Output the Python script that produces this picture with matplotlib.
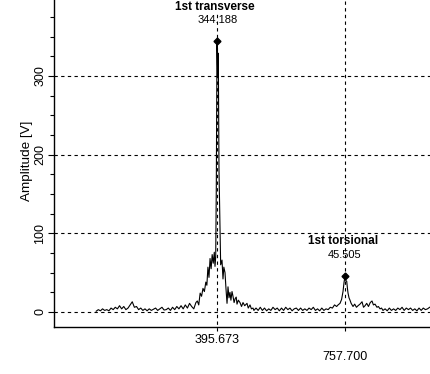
import numpy as np
import matplotlib.pyplot as plt
from matplotlib.ticker import MultipleLocator
import matplotlib.transforms as mtransforms

plt.rcParams['font.family'] = ['Liberation Sans', 'DejaVu Sans']

# baseline noise left of the first peak
freq_left = [54, 60, 66, 72, 78, 84, 90, 96, 102, 108, 114, 120, 126, 132, 138, 144,
             150, 156, 162, 168, 174, 180, 186, 192, 198, 204, 210, 216, 222, 228, 234,
             240, 246, 252, 258, 264, 270, 276, 282, 288, 294, 300, 306, 312, 318, 324,
             330, 336]
amp_left = [1, 3, 1.5, 4, 2, 3, 1.5, 5, 3, 6, 4, 8, 4, 7, 3, 5,
            9, 13, 6, 7, 3, 5, 2, 4, 1.5, 4, 2, 3.5, 5, 2, 4,
            6, 2.5, 3, 5, 2, 6, 3, 7, 4, 8, 4, 9, 5, 11, 7,
            4, 12]

# 1st transverse peak
freq_p1 = [340, 344, 348, 352, 356, 360, 364, 367, 370, 373, 376, 379, 382, 385, 388,
           390, 392, 393.7, 395.673, 397.5, 399.3, 401.3, 404.2, 406, 409.8, 412.6, 415,
           418.3, 421, 424, 426.8, 429.6, 432.4, 435, 438.1, 440.9, 444, 447, 450, 452.2,
           456, 460.7, 465, 469.2, 474, 480.5, 484, 489, 493, 497.5]
amp_p1 = [14, 9, 24, 20, 30, 26, 38, 34, 57, 44, 68, 55, 73, 62, 76,
          58, 70, 160, 344.188, 300, 329, 180, 104, 60, 66, 42, 57,
          50, 30, 11, 32, 18, 25, 15, 26, 20, 12, 17, 19, 10,
          15, 12, 7, 12, 8, 11, 5, 9, 4, 5]

# baseline between the peaks
freq_mid = [500, 506, 512, 518, 524, 530, 536, 542, 548, 554, 560, 566, 572, 578, 584,
            590, 596, 602, 608, 614, 620, 626, 632, 638, 644, 650, 656, 662, 668, 674,
            680, 686, 692, 698, 704, 710, 716, 722, 728, 734]
amp_mid = [2, 5, 2, 6, 2, 5, 1.5, 4, 2, 6, 3, 5, 1.5, 5, 2,
           6, 3, 5, 1.5, 4, 5, 2, 5, 2, 4, 2, 5, 3, 6, 2,
           4, 1.5, 5, 2, 4, 3, 6, 5, 9, 7]

# 1st torsional peak
freq_p2 = [738, 743.5, 748, 752, 755, 757.7, 760, 762.5, 764.5, 766.2, 769, 771.8, 775,
           780.3, 785, 790, 794.5, 800, 805.8, 810, 814.3, 819, 824, 829, 834, 838,
           842.5, 848, 852, 856.7, 861, 865]
amp_p2 = [9, 11, 16, 26, 38, 45.505, 40, 39, 30, 24, 18, 15, 11,
          7, 10, 6, 8, 10, 13, 6, 8, 11, 7, 12, 14, 9,
          10, 6, 7, 4, 5, 2]

# baseline on the right
freq_right = [871, 877, 883, 889, 895, 901, 907, 913, 919, 925, 931, 937, 943, 949,
              955, 961, 967, 973, 979, 985, 991, 997]
amp_right = [4, 1.5, 5, 2, 4, 2, 5, 3, 6, 2, 5, 3, 5, 2,
             4, 1.5, 5, 2, 5, 3, 4, 6]

peak_freq = [395.673, 757.700]
peak_amp = [344.188, 45.505]
peak_names = ['1st transverse', '1st torsional']

freq = freq_left + freq_p1 + freq_mid + freq_p2 + freq_right
amp = amp_left + amp_p1 + amp_mid + amp_p2 + amp_right

fig = plt.figure(figsize=(4.30, 3.74), dpi=100)
ax = fig.add_axes([54 / 430, 47 / 374, 376 / 430, 327 / 374])

ax.plot(freq, amp, color='black', lw=0.8)
ax.plot(peak_freq, peak_amp, 'D', color='black', ms=3.5)

ax.set_xlim(-65.3, 998)
ax.set_ylim(-19.07, 396.6)

for s in ['top', 'right']:
    ax.spines[s].set_visible(False)
for s in ['left', 'bottom']:
    ax.spines[s].set_linewidth(1.0)

dash = (0, (3, 3))
for yv in [0, 100, 200, 300]:
    ax.axhline(yv, color='black', lw=0.8, linestyle=dash)
for xv in peak_freq:
    ax.axvline(xv, ymin=-0.013, ymax=1, color='black', lw=0.8,
               linestyle=dash, clip_on=False)

ax.yaxis.set_major_locator(MultipleLocator(100))
ax.yaxis.set_minor_locator(MultipleLocator(25))
ax.tick_params(axis='y', which='major', length=4, width=0.8, pad=1.5, labelsize=9)
ax.tick_params(axis='y', which='minor', length=3, width=0.8)
for lab in ax.get_yticklabels():
    lab.set_rotation(90)
    lab.set_va('center')
fig.text(27 / 430, 1 - 161 / 374, 'Amplitude [V]', rotation=90, ha='center',
         va='center', fontsize=9.7)

ax.set_xticks([])
trans = mtransforms.blended_transform_factory(ax.transData, ax.transAxes)
ax.text(peak_freq[0], -13 / 327, '395.673', transform=trans, ha='center', va='center',
        fontsize=9)
ax.text(peak_freq[1], -29.5 / 327, '757.700', transform=trans, ha='center', va='center',
        fontsize=9)

# peak labels
ax.text(390, 387.7, peak_names[0], ha='center', va='center', fontsize=8.5,
        fontweight='bold', zorder=5,
        bbox=dict(facecolor='white', edgecolor='none', pad=0.5))
ax.text(peak_freq[0] + 2, 371, '344.188', ha='center', va='center', fontsize=8)
ax.text(752, 90.2, peak_names[1], ha='center', va='center', fontsize=8.5,
        fontweight='bold')
ax.text(peak_freq[1], 72.5, '45.505', ha='center', va='center', fontsize=8)

fig.savefig('out.png', dpi=100)
